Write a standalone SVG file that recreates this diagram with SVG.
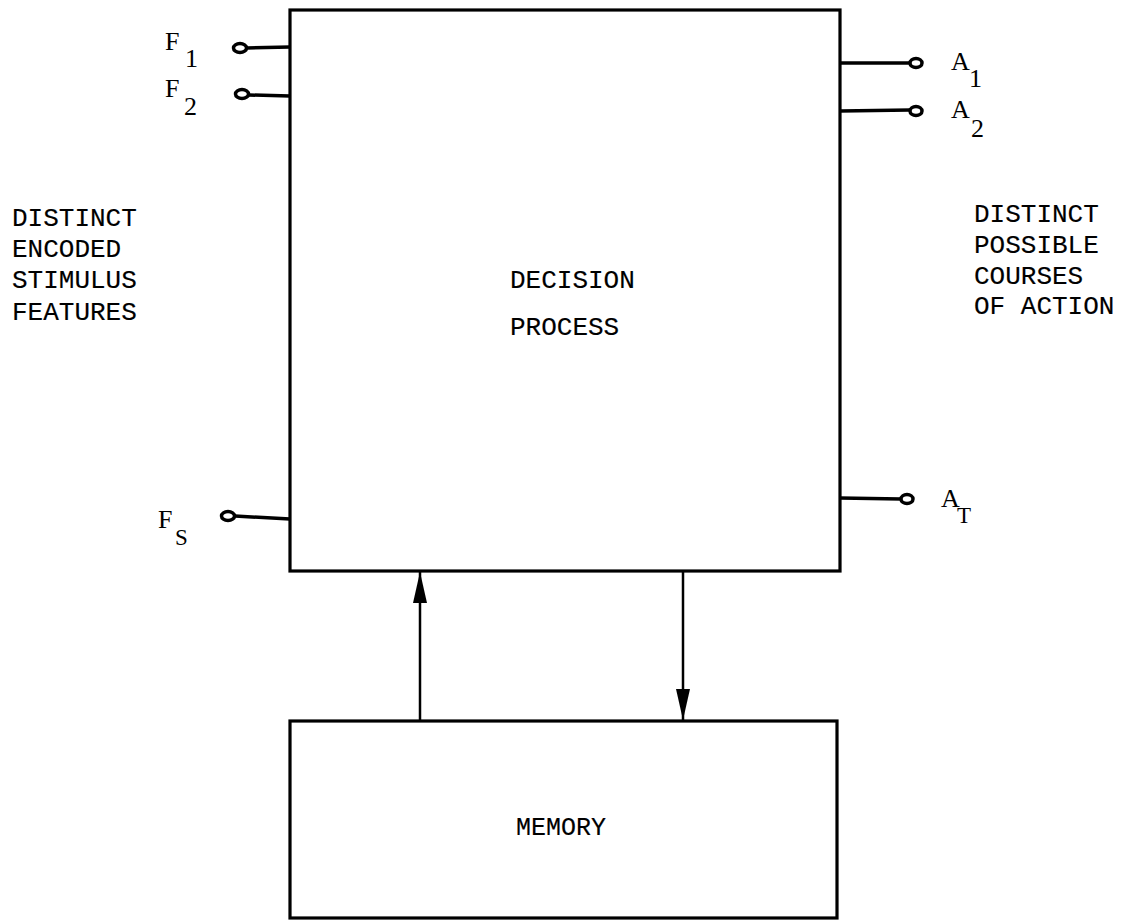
<svg xmlns="http://www.w3.org/2000/svg" width="1128" height="920" viewBox="0 0 1128 920">
<defs>
<style>
.box{fill:none;stroke:#000;stroke-width:3.2}
.wire{stroke:#000;stroke-width:3.5;fill:none}
.term{fill:#fff;stroke:#000;stroke-width:3.5}
.mono{font-family:"Liberation Mono",monospace;font-size:26px;fill:#000;stroke:#000;stroke-width:0.15}
.lbl{font-family:"Liberation Serif",serif;font-size:26px;fill:#000}
.conn{stroke:#000;stroke-width:2.5;fill:none}
</style>
<marker id="ah" viewBox="0 0 31 14" refX="31" refY="7" markerWidth="31" markerHeight="14" markerUnits="userSpaceOnUse" orient="auto">
<path d="M0,0 L31,7 L0,14 Z" fill="#000"/>
</marker>
</defs>
<rect width="1128" height="920" fill="#fff"/>

<g id="decision-process">
<rect class="box" x="290" y="10" width="550" height="561"/>
<text class="mono" x="510" y="288">DECISION</text>
<text class="mono" x="510" y="335">PROCESS</text>
</g>

<g id="memory">
<rect class="box" x="290" y="721" width="547" height="197"/>
<text class="mono" x="516" y="835" style="font-size:25px">MEMORY</text>
</g>

<g id="input-F1">
<line class="wire" x1="247" y1="48" x2="290" y2="47"/>
<ellipse class="term" cx="240" cy="48" rx="6.5" ry="4.5"/>
<text class="lbl" x="165" y="50">F</text>
<text class="lbl" x="185" y="67">1</text>
</g>
<g id="input-F2">
<line class="wire" x1="249" y1="95" x2="290" y2="96"/>
<ellipse class="term" cx="242" cy="94" rx="6.5" ry="4.5"/>
<text class="lbl" x="165" y="97">F</text>
<text class="lbl" x="184" y="115">2</text>
</g>
<g id="input-FS">
<line class="wire" x1="235" y1="516" x2="290" y2="519"/>
<ellipse class="term" cx="228" cy="516" rx="6.5" ry="4.5"/>
<text class="lbl" x="158" y="528">F</text>
<text class="lbl" x="175" y="545" style="font-size:23px">S</text>
</g>

<g id="output-A1">
<line class="wire" x1="840" y1="63" x2="910" y2="63"/>
<ellipse class="term" cx="916" cy="63" rx="6" ry="4.5"/>
<text class="lbl" x="951" y="70">A</text>
<text class="lbl" x="969" y="87">1</text>
</g>
<g id="output-A2">
<line class="wire" x1="840" y1="111" x2="910" y2="110"/>
<ellipse class="term" cx="916" cy="111" rx="6" ry="4.5"/>
<text class="lbl" x="951" y="118">A</text>
<text class="lbl" x="971" y="137">2</text>
</g>
<g id="output-AT">
<line class="wire" x1="840" y1="498" x2="901" y2="499"/>
<ellipse class="term" cx="907" cy="499" rx="6" ry="4.5"/>
<text class="lbl" x="941" y="507">A</text>
<text class="lbl" x="957" y="523" style="font-size:23px">T</text>
</g>

<g id="label-left">
<text class="mono" x="12" y="226">DISTINCT</text>
<text class="mono" x="12" y="257">ENCODED</text>
<text class="mono" x="12" y="288">STIMULUS</text>
<text class="mono" x="12" y="320">FEATURES</text>
</g>
<g id="label-right">
<text class="mono" x="974" y="222">DISTINCT</text>
<text class="mono" x="974" y="253">POSSIBLE</text>
<text class="mono" x="974" y="284">COURSES</text>
<text class="mono" x="974" y="314">OF ACTION</text>
</g>

<g id="connectors">
<line class="conn" x1="420" y1="721" x2="420" y2="572" marker-end="url(#ah)"/>
<line class="conn" x1="683" y1="572" x2="683" y2="720" marker-end="url(#ah)"/>
</g>
</svg>
